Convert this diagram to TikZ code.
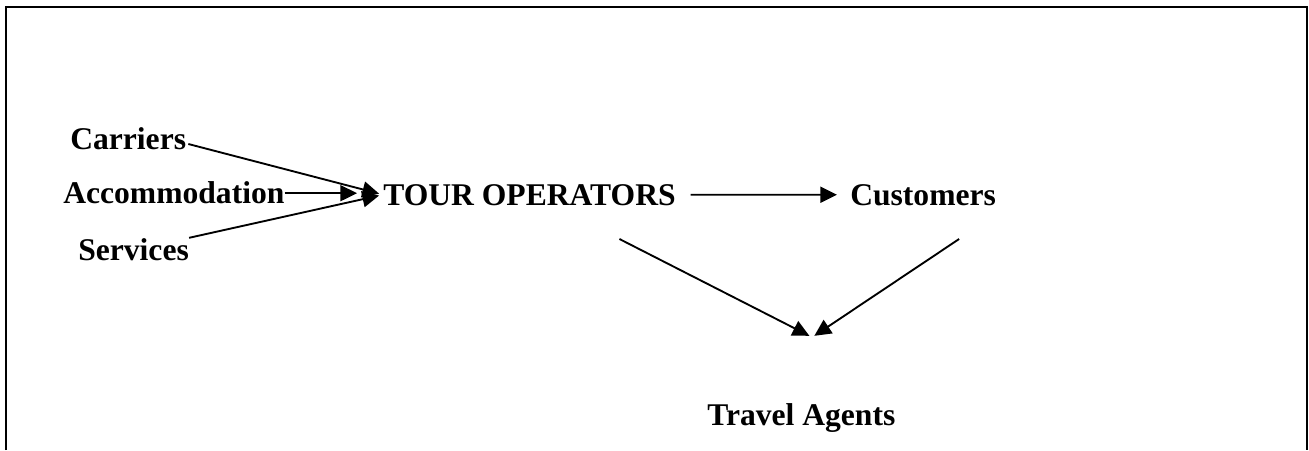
\documentclass[tikz,border=0pt]{standalone}
\usepackage{fontspec}
\setmainfont{Liberation Serif}
\usetikzlibrary{arrows.meta, positioning, calc}

\begin{document}
\begin{tikzpicture}[
  x=0.75pt, y=-0.75pt,
  lbl/.style={inner sep=0pt, anchor=base west, font=\bfseries\fontsize{23.7}{28}\selectfont},
  arr/.style={-{Triangle[length=12.5pt, width=12pt]}, line width=1.4pt}
]
  \useasboundingbox (0,0) rectangle (1309,450);
  \draw[line width=1.6pt] (6,450) -- (6,7) -- (1307,7) -- (1307,450);

  \node[lbl] (carriers)  at (70,149)  {Carriers};
  \node[lbl] (accom)     at (63,203)  {Accommodation};
  \node[lbl] (services)  at (78,260)  {Services};
  \node[lbl] (tour)      at (383,205) {TOUR OPERATORS};
  \node[lbl] (customers) at (850,205) {Customers};
  \node[lbl] (agents)    at (707,425) {Travel Agents};

  % free ends of the two lines into Travel Agents
  \coordinate (tour out) at ($(tour.base)+(90,34)$);
  \coordinate (cust out) at ($(customers.base)+(36,34)$);
  \coordinate (agents in l) at ($(agents.north)+(8,-67)$);
  \coordinate (agents in r) at ($(agents.north)+(13,-67)$);

  \draw[arr, shorten >=3pt] ($(carriers.base east)+(2,-5)$) -- (tour.west);
  \draw[arr, shorten >=19.5pt] ($(accom.east)+(0,1)$) -- ($(accom.east -| tour.west)+(0,1)$);
  \draw[arr, shorten >=3pt] (services.north east) -- (tour.west);
  \draw[arr, shorten <=11pt, shorten >=9.75pt] (tour.east) -- (customers.west);
  \draw[arr] (tour out) -- (agents in l);
  \draw[arr] (cust out) -- (agents in r);
\end{tikzpicture}
\end{document}
